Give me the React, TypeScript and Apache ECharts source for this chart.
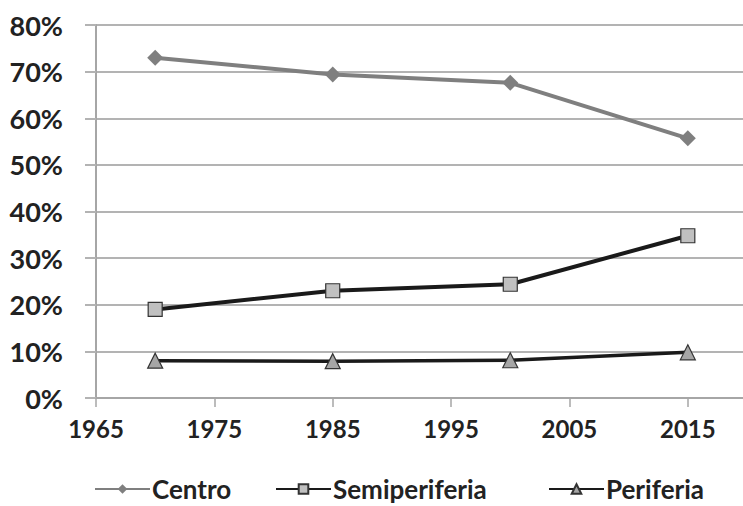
import React, { useEffect, useRef } from "react";
import * as echarts from "echarts";

const years = [1970, 1985, 2000, 2015];
const centro = [73.0, 69.4, 67.6, 55.7];
const semiperiferia = [19.0, 23.0, 24.4, 34.8];
const periferia = [8.0, 7.9, 8.1, 9.8];
const seriesNames = ["Centro", "Semiperiferia", "Periferia"];

const FONT = "Lato";

export default function App() {
  const ref = useRef<HTMLDivElement>(null);
  useEffect(() => {
    if (!ref.current) return;
    const chart = echarts.init(ref.current, null, { renderer: "svg" });
    const pairs = (vals: number[]) => years.map((y, i) => [y, vals[i]]);
    const legendText = {
      fontFamily: FONT,
      fontWeight: "bold",
      fontSize: 26,
      color: "#222",
      padding: [0, 0, 0, -3],
    };
    const legendLefts = [89, 270, 543];
    chart.setOption({
      animation: false,
      backgroundColor: "#ffffff",
      grid: {
        left: 96,
        top: 25,
        bottom: 108,
        width: 651,
        containLabel: false,
        outerBoundsMode: "none",
      },
      xAxis: {
        type: "value",
        min: 1965,
        max: 2020,
        interval: 10,
        axisLine: { show: true, lineStyle: { color: "#a6a6a6", width: 2 } },
        axisTick: { show: true, length: 9, lineStyle: { color: "#a6a6a6", width: 1.5 } },
        splitLine: { show: false },
        axisLabel: {
          margin: 18,
          fontFamily: FONT,
          fontWeight: "bold",
          fontSize: 24,
          color: "#222",
          formatter: (v: number) => ((v - 1965) % 10 === 0 ? String(v) : ""),
        },
      },
      yAxis: {
        type: "value",
        min: 0,
        max: 80,
        interval: 10,
        axisLine: { show: true, lineStyle: { color: "#a6a6a6", width: 2 } },
        axisTick: { show: true, length: 11, lineStyle: { color: "#b3b3b3", width: 2 } },
        splitLine: { show: true, lineStyle: { color: "#b3b3b3", width: 2 } },
        axisLabel: {
          margin: 33,
          fontFamily: FONT,
          fontWeight: "bold",
          fontSize: 27,
          color: "#222",
          formatter: "{value}%",
        },
      },
      legend: seriesNames.map((name, i) => ({
        left: legendLefts[i],
        top: 471,
        itemWidth: 55,
        itemHeight: 12,
        textStyle: legendText,
        data: [name],
      })),
      series: [
        {
          name: seriesNames[0],
          type: "line",
          data: pairs(centro),
          symbol: "diamond",
          symbolSize: 16,
          lineStyle: { color: "#7f7f7f", width: 4 },
          itemStyle: { color: "#7f7f7f" },
        },
        {
          name: seriesNames[1],
          type: "line",
          data: pairs(semiperiferia),
          symbol: "rect",
          symbolSize: 14,
          lineStyle: { color: "#1a1a1a", width: 4 },
          itemStyle: { color: "#c0c0c0", borderColor: "#333", borderWidth: 1.2 },
        },
        {
          name: seriesNames[2],
          type: "line",
          data: pairs(periferia),
          symbol: "triangle",
          symbolSize: 15,
          lineStyle: { color: "#1a1a1a", width: 3.5 },
          itemStyle: { color: "#a6a6a6", borderColor: "#333", borderWidth: 1.2 },
        },
      ],
    });
    return () => chart.dispose();
  }, []);
  return (
    <div
      ref={ref}
      style={{ position: "fixed", left: 0, top: 0, width: 743, height: 506 }}
    />
  );
}
